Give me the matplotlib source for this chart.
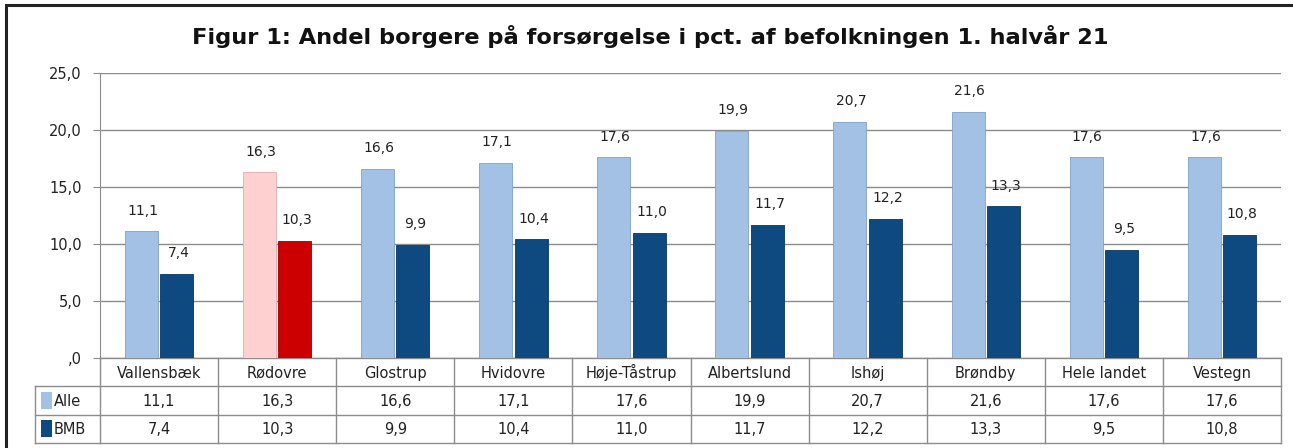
import numpy as np
import matplotlib.pyplot as plt
from matplotlib.patches import Rectangle

categories = ["Vallensbæk", "Rødovre", "Glostrup", "Hvidovre", "Høje-Tåstrup",
              "Albertslund", "Ishøj", "Brøndby", "Hele landet", "Vestegn"]
alle = [11.1, 16.3, 16.6, 17.1, 17.6, 19.9, 20.7, 21.6, 17.6, 17.6]
bmb = [7.4, 10.3, 9.9, 10.4, 11.0, 11.7, 12.2, 13.3, 9.5, 10.8]
series_names = ["Alle", "BMB"]
title = "Figur 1: Andel borgere på forsørgelse i pct. af befolkningen 1. halvår 21"

plt.rcParams['font.family'] = ['DejaVu Sans']

W, H = 1293, 448
fig = plt.figure(figsize=(W / 100, H / 100), dpi=100)

# outer frame (right and bottom edges run off the picture)
fig.add_artist(Rectangle((6 / W, -0.1), 1.2, 1 - 5 / H + 0.1, transform=fig.transFigure,
                         fill=False, edgecolor='#222222', linewidth=2.2))

left, right, top, bottom = 100, 1281, 73, 358
ax = fig.add_axes([left / W, 1 - bottom / H, (right - left) / W, (bottom - top) / H])

x = np.arange(len(categories))
bw = 0.28
alle_colors = ['#a3c1e4'] * len(categories)
bmb_colors = ['#0e4a80'] * len(categories)
alle_colors[1] = '#ffd0d0'
bmb_colors[1] = '#cc0000'

ax.bar(x - bw / 2 - 0.01, alle, bw, color=alle_colors, edgecolor='#7f9fc8', linewidth=0.6, zorder=3)
ax.bar(x + bw / 2 + 0.01, bmb, bw, color=bmb_colors, edgecolor='#0a3560', linewidth=0.6, zorder=3)
ax.patches[1].set_edgecolor('#e8aaaa')
ax.patches[len(categories) + 1].set_edgecolor('#990000')

fmt = lambda v: f"{v:.1f}".replace('.', ',')
for i in range(len(categories)):
    ax.text(x[i] - bw / 2, alle[i] + 1.2, fmt(alle[i]), ha='center', va='bottom', fontsize=10, color='#222222')
    ax.text(x[i] + bw / 2 + 0.03, bmb[i] + 1.2, fmt(bmb[i]), ha='center', va='bottom', fontsize=10, color='#222222')

ax.set_xlim(-0.5, len(categories) - 0.5)
ax.set_ylim(0, 25)
ax.set_yticks(np.arange(0, 26, 5))
ax.set_yticklabels([",0"] + [fmt(v) for v in np.arange(5, 26, 5)], fontsize=10.5, color='#222222')
ax.set_xticks([])
ax.yaxis.grid(True, color='#8c8c8c', linewidth=1.0, zorder=0)
ax.tick_params(axis='y', length=5, color='#8c8c8c', pad=8)
for s in ['top', 'right', 'bottom']:
    ax.spines[s].set_visible(False)
ax.spines['left'].set_color('#8c8c8c')

# data table under the plot
ax_h = bottom - top
row_h = 28.3 / ax_h
base_off = 5.5 / ax_h
leg_left = -0.5 - 65 / ((right - left) / len(categories))
tcol = '#8c8c8c'
tr = ax.get_xaxis_transform()
n = len(categories)
ax.plot([-0.5, n - 0.5], [0, 0], color=tcol, lw=1, transform=tr, clip_on=False)
for r in range(1, 4):
    ax.plot([leg_left, n - 0.5], [-r * row_h] * 2, color=tcol, lw=1, transform=tr, clip_on=False)
ax.plot([leg_left, leg_left], [-row_h, -3 * row_h], color=tcol, lw=1, transform=tr, clip_on=False)
for k in range(n + 1):
    ax.plot([k - 0.5, k - 0.5], [0, -3 * row_h], color=tcol, lw=1, transform=tr, clip_on=False)

rows = [categories, [fmt(v) for v in alle], [fmt(v) for v in bmb]]
for r, row in enumerate(rows):
    for i, s in enumerate(row):
        ax.text(i, -(r + 0.5) * row_h - base_off, s, ha='center', va='baseline', fontsize=10.5,
                color='#222222', transform=tr)

for r, (name, col) in enumerate(zip(series_names, ['#a3c1e4', '#0e4a80'])):
    yc = -(1.5 + r) * row_h
    ax.add_patch(Rectangle((leg_left + 0.05, yc - 0.3 * row_h), 0.09, 0.6 * row_h, transform=tr,
                           facecolor=col, edgecolor='none', clip_on=False))
    ax.text(leg_left + 0.16, yc - base_off, name, ha='left', va='baseline', fontsize=10.5,
            color='#222222', transform=tr)

fig.text(650 / W, 1 - 36 / H, title, ha='center', va='center', fontsize=16.2, fontweight='bold', color='#111111')

fig.savefig('out.png', dpi=100)
